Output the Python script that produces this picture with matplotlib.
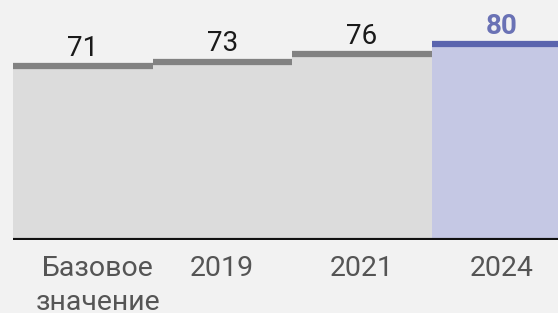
import matplotlib
matplotlib.use("Agg")
import matplotlib.pyplot as plt
from matplotlib.transforms import ScaledTranslation

# values
categories = ["Базовое\nзначение", "2019", "2021", "2024"]
values = [71, 73, 76, 80]
highlight = [False, False, False, True]

BG = "#f2f2f2"
GREY_FILL = "#dcdcdc"
GREY_LINE = "#828282"
BLUE_FILL = "#c5c8e4"
BLUE_LINE = "#5a64ae"
BLUE_TEXT = "#6a72b5"

plt.rcParams["font.family"] = ["Roboto", "DejaVu Sans"]

fig = plt.figure(figsize=(5.58, 3.13), dpi=100, facecolor=BG)
ax = fig.add_axes([13 / 558, 73 / 313, 545 / 558, 240 / 313])
ax.set_facecolor(BG)

xs = list(range(len(values)))
fills = [BLUE_FILL if h else GREY_FILL for h in highlight]
lines = [BLUE_LINE if h else GREY_LINE for h in highlight]

ax.bar(xs, values, width=1.0, color=fills, linewidth=0, zorder=1)

# thick step on top of each bar
for x, v, c in zip(xs, values, lines):
    ax.hlines(v, x - 0.5, x + 0.5, colors=c, linewidth=4.5, zorder=2)

# value labels
for x, v, h in zip(xs, values, highlight):
    ax.annotate(str(v), (x, v), xytext=(0, 7.5), textcoords="offset points",
                ha="center", va="baseline", fontsize=20,
                color=BLUE_TEXT if h else "#1a1a1a",
                fontweight="bold" if h else "normal")

ax.axhline(0, xmin=2 / 545, color="#111111", linewidth=3, zorder=3)

ax.set_xlim(-0.5, -0.5 + 545 / 139.5)
ax.set_ylim(0, 98.2)
ax.set_xticks(xs)
ax.set_xticklabels(categories, fontsize=20.5, color="#555555", linespacing=1.3)
ax.tick_params(axis="x", length=0, pad=11)
# first label sits a bit right of its bar in the reference
lbl0 = ax.get_xticklabels()[0]
lbl0.set_transform(lbl0.get_transform() + ScaledTranslation(15 / 100, 0, fig.dpi_scale_trans))
ax.set_yticks([])
for s in ax.spines.values():
    s.set_visible(False)

fig.savefig("out.png", dpi=100, facecolor=BG)
